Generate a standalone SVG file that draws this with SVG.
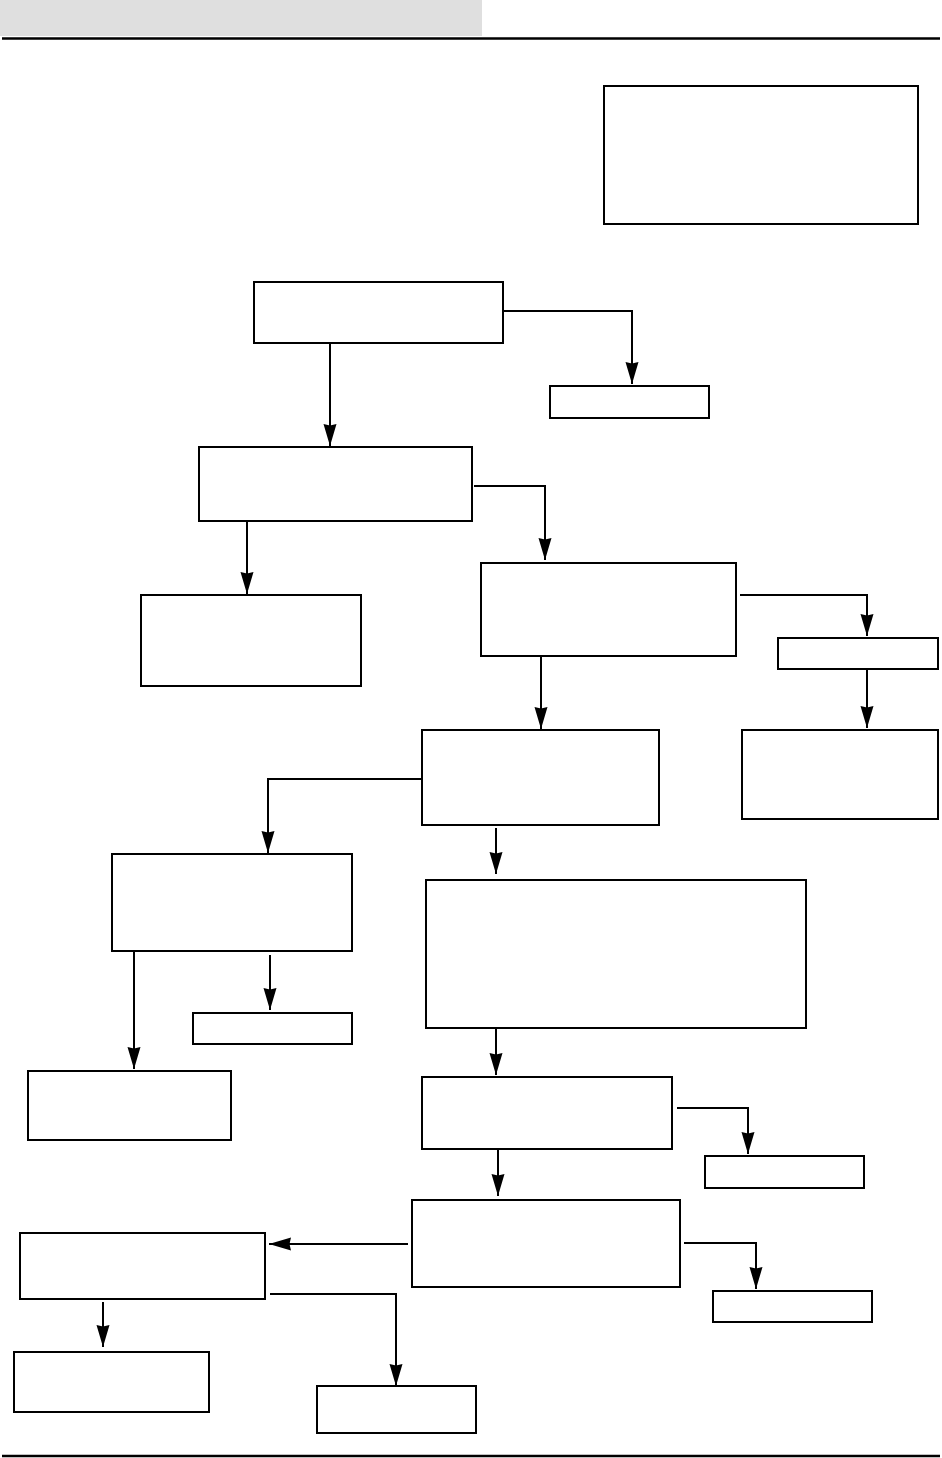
<svg xmlns="http://www.w3.org/2000/svg" width="942" height="1458" viewBox="0 0 942 1458">
<style>
.box{fill:#fff;stroke:#000;stroke-width:2}
.con{fill:none;stroke:#000;stroke-width:2}
.rule{stroke:#000;stroke-width:2.5}
</style>
<defs>
<marker id="ah" markerUnits="userSpaceOnUse" markerWidth="24" markerHeight="16" viewBox="-23 -8 24 16" refX="0" refY="0" orient="auto">
<path d="M0,0 L-22,-6.5 L-20.5,0 L-22,6.5 Z" fill="#000"/>
</marker>
</defs>
<rect x="0" y="0" width="482" height="36" fill="#dfdfdf"/>
<line class="rule" x1="2" y1="38.5" x2="940" y2="38.5"/>
<line class="rule" x1="2" y1="1456" x2="940" y2="1456"/>
<g id="n1"><rect class="box" x="604" y="86" width="314" height="138"/></g>
<g id="nA"><rect class="box" x="254" y="282" width="249" height="61"/></g>
<g id="nB"><rect class="box" x="550" y="386" width="159" height="32"/></g>
<g id="nC"><rect class="box" x="199" y="447" width="273" height="74"/></g>
<g id="nD"><rect class="box" x="141" y="595" width="220" height="91"/></g>
<g id="nE"><rect class="box" x="481" y="563" width="255" height="93"/></g>
<g id="nF"><rect class="box" x="778" y="638" width="160" height="31"/></g>
<g id="nG"><rect class="box" x="742" y="730" width="196" height="89"/></g>
<g id="nH"><rect class="box" x="422" y="730" width="237" height="95"/></g>
<g id="nI"><rect class="box" x="112" y="854" width="240" height="97"/></g>
<g id="nJ"><rect class="box" x="193" y="1013" width="159" height="31"/></g>
<g id="nK"><rect class="box" x="28" y="1071" width="203" height="69"/></g>
<g id="nL"><rect class="box" x="426" y="880" width="380" height="148"/></g>
<g id="nM"><rect class="box" x="422" y="1077" width="250" height="72"/></g>
<g id="nN"><rect class="box" x="705" y="1156" width="159" height="32"/></g>
<g id="nO"><rect class="box" x="412" y="1200" width="268" height="87"/></g>
<g id="nP"><rect class="box" x="20" y="1233" width="245" height="66"/></g>
<g id="nQ"><rect class="box" x="713" y="1291" width="159" height="31"/></g>
<g id="nR"><rect class="box" x="14" y="1352" width="195" height="60"/></g>
<g id="nS"><rect class="box" x="317" y="1386" width="159" height="47"/></g>
<g id="connectors">
<path class="con" d="M330,344 V446" marker-end="url(#ah)"/>
<path class="con" d="M504,311 H632 V384" marker-end="url(#ah)"/>
<path class="con" d="M247,522 V594" marker-end="url(#ah)"/>
<path class="con" d="M474,486 H545 V560" marker-end="url(#ah)"/>
<path class="con" d="M541,657 V729" marker-end="url(#ah)"/>
<path class="con" d="M740,595 H867 V636" marker-end="url(#ah)"/>
<path class="con" d="M867,670 V728" marker-end="url(#ah)"/>
<path class="con" d="M422,779 H268 V853" marker-end="url(#ah)"/>
<path class="con" d="M496,828 V874" marker-end="url(#ah)"/>
<path class="con" d="M134,952 V1069" marker-end="url(#ah)"/>
<path class="con" d="M270,955 V1010" marker-end="url(#ah)"/>
<path class="con" d="M496,1029 V1075" marker-end="url(#ah)"/>
<path class="con" d="M677,1108 H748 V1154" marker-end="url(#ah)"/>
<path class="con" d="M498,1150 V1196" marker-end="url(#ah)"/>
<path class="con" d="M408,1244 H269" marker-end="url(#ah)"/>
<path class="con" d="M684,1243 H756 V1289" marker-end="url(#ah)"/>
<path class="con" d="M103,1302 V1347" marker-end="url(#ah)"/>
<path class="con" d="M270,1294 H396 V1386" marker-end="url(#ah)"/>
</g>
</svg>
